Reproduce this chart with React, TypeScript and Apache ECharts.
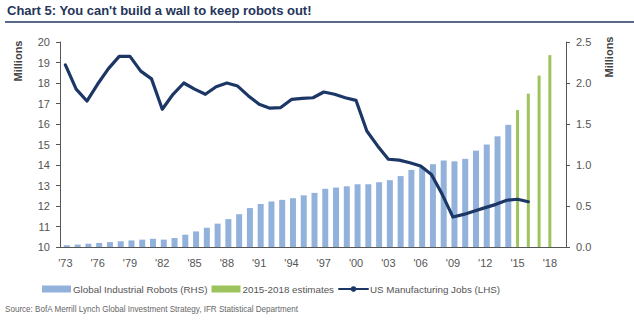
import React, { useEffect, useRef } from "react";
import * as echarts from "echarts";

const years = [
  "'73", "'74", "'75", "'76", "'77", "'78", "'79", "'80", "'81", "'82",
  "'83", "'84", "'85", "'86", "'87", "'88", "'89", "'90", "'91", "'92",
  "'93", "'94", "'95", "'96", "'97", "'98", "'99", "'00", "'01", "'02",
  "'03", "'04", "'05", "'06", "'07", "'08", "'09", "'10", "'11", "'12",
  "'13", "'14", "'15", "'16", "'17", "'18", "'19",
];

// US Manufacturing Jobs (LHS, millions), 1973-2016
const usJobs = [
  18.88, 17.7, 17.12, 17.95, 18.7, 19.3, 19.3, 18.58, 18.2, 16.72,
  17.45, 18.0, 17.7, 17.45, 17.82, 18.0, 17.85, 17.37, 16.96, 16.77,
  16.8, 17.2, 17.25, 17.28, 17.56, 17.45, 17.28, 17.15, 15.66, 14.93,
  14.28, 14.24, 14.11, 13.95, 13.54, 12.57, 11.46, 11.59, 11.76, 11.92,
  12.08, 12.28, 12.33, 12.21, null, null, null,
];

// Global Industrial Robots (RHS, millions), 1973-2014
const robots = [
  0.02, 0.03, 0.04, 0.05, 0.06, 0.07, 0.08, 0.09, 0.1, 0.09,
  0.11, 0.15, 0.19, 0.235, 0.285, 0.34, 0.4, 0.475, 0.525, 0.555,
  0.575, 0.595, 0.63, 0.66, 0.71, 0.725, 0.74, 0.765, 0.765, 0.79,
  0.815, 0.865, 0.94, 0.975, 1.01, 1.055, 1.045, 1.075, 1.175, 1.25,
  1.35, 1.49, null, null, null, null, null,
];

// 2015-2018 estimates (RHS, millions)
const estimates = [
  null, null, null, null, null, null, null, null, null, null,
  null, null, null, null, null, null, null, null, null, null,
  null, null, null, null, null, null, null, null, null, null,
  null, null, null, null, null, null, null, null, null, null,
  null, null, 1.67, 1.87, 2.09, 2.34, null,
];

const FONT = "'Liberation Sans', Arial, sans-serif";

export default function App() {
  const ref = useRef<HTMLDivElement>(null);
  useEffect(() => {
    if (!ref.current) return;
    const chart = echarts.init(ref.current, undefined, { renderer: "svg" });
    chart.setOption({
      animation: false,
      backgroundColor: "#ffffff",
      textStyle: { fontFamily: FONT },
      grid: { left: 60, right: 68, top: 42, bottom: 74, containLabel: false },
      legend: {
        left: 37,
        top: 279,
        itemWidth: 29,
        itemHeight: 7,
        itemGap: 4,
        textStyle: { fontSize: 9.8, color: "#555", fontFamily: FONT, padding: [0, 0, 0, -3] },
        data: [
          { name: "Global Industrial Robots (RHS)", icon: "rect" },
          { name: "2015-2018 estimates", icon: "rect" },
          { name: "US Manufacturing Jobs (LHS)" },
        ],
      },
      xAxis: {
        type: "category",
        data: years,
        boundaryGap: true,
        axisLine: { lineStyle: { color: "#555", width: 1 } },
        axisTick: { show: false },
        axisLabel: { interval: 2, color: "#555", fontSize: 11, margin: 10, fontFamily: FONT },
      },
      yAxis: [
        {
          type: "value",
          min: 10,
          max: 20,
          interval: 1,
          position: "left",
          splitLine: { show: false },
          axisLine: { show: true, lineStyle: { color: "#555" } },
          axisTick: { show: true, length: 4, lineStyle: { color: "#555" } },
          axisLabel: { color: "#555", fontSize: 11, margin: 10, fontFamily: FONT },
        },
        {
          type: "value",
          min: 0,
          max: 2.5,
          interval: 0.5,
          position: "right",
          splitLine: { show: false },
          axisLine: { show: true, lineStyle: { color: "#555" } },
          axisTick: { show: true, length: 4, lineStyle: { color: "#555" } },
          axisLabel: {
            color: "#555",
            fontSize: 11,
            margin: 10,
            fontFamily: FONT,
            formatter: (v: number) => v.toFixed(1),
          },
        },
      ],
      series: [
        {
          name: "Global Industrial Robots (RHS)",
          type: "bar",
          yAxisIndex: 1,
          data: robots,
          barWidth: 6,
          barGap: "-100%",
          itemStyle: { color: "#92b2dc" },
        },
        {
          name: "2015-2018 estimates",
          type: "bar",
          yAxisIndex: 1,
          data: estimates,
          barWidth: 3,
          itemStyle: { color: "#9dc45c" },
        },
        {
          name: "US Manufacturing Jobs (LHS)",
          type: "line",
          yAxisIndex: 0,
          data: usJobs,
          symbol: "none",
          lineStyle: { color: "#1c3766", width: 3.2, join: "round", cap: "round" },
          itemStyle: { color: "#1c3766" },
          z: 5,
        },
      ],
      graphic: [
        {
          type: "text",
          left: 7,
          top: 4,
          style: {
            text: "Chart 5: You can't build a wall to keep robots out!",
            fontSize: 13,
            fontWeight: "bold",
            fill: "#25355a",
            fontFamily: FONT,
          },
        },
        {
          type: "line",
          shape: { x1: 5, y1: 22, x2: 634, y2: 22 },
          style: { stroke: "#5b6a8a", lineWidth: 2 },
        },
        {
          type: "text",
          x: 18,
          y: 61,
          rotation: Math.PI / 2,
          style: {
            text: "Millions",
            fontSize: 11,
            fontWeight: "bold",
            fill: "#444",
            fontFamily: FONT,
            align: "center",
            verticalAlign: "middle",
          },
        },
        {
          type: "text",
          x: 609,
          y: 57,
          rotation: Math.PI / 2,
          style: {
            text: "Millions",
            fontSize: 11,
            fontWeight: "bold",
            fill: "#444",
            fontFamily: FONT,
            align: "center",
            verticalAlign: "middle",
          },
        },
        {
          type: "text",
          x: 5,
          y: 304,
          scaleX: 0.9,
          style: {
            text: "Source: BofA Merrill Lynch Global Investment Strategy, IFR Statistical Department",
            fontSize: 9,
            fill: "#666",
            fontFamily: FONT,
          },
        },
      ],
    });
    return () => chart.dispose();
  }, []);
  return <div ref={ref} style={{ width: 634, height: 321, position: "absolute", left: 0, top: 0 }} />;
}
